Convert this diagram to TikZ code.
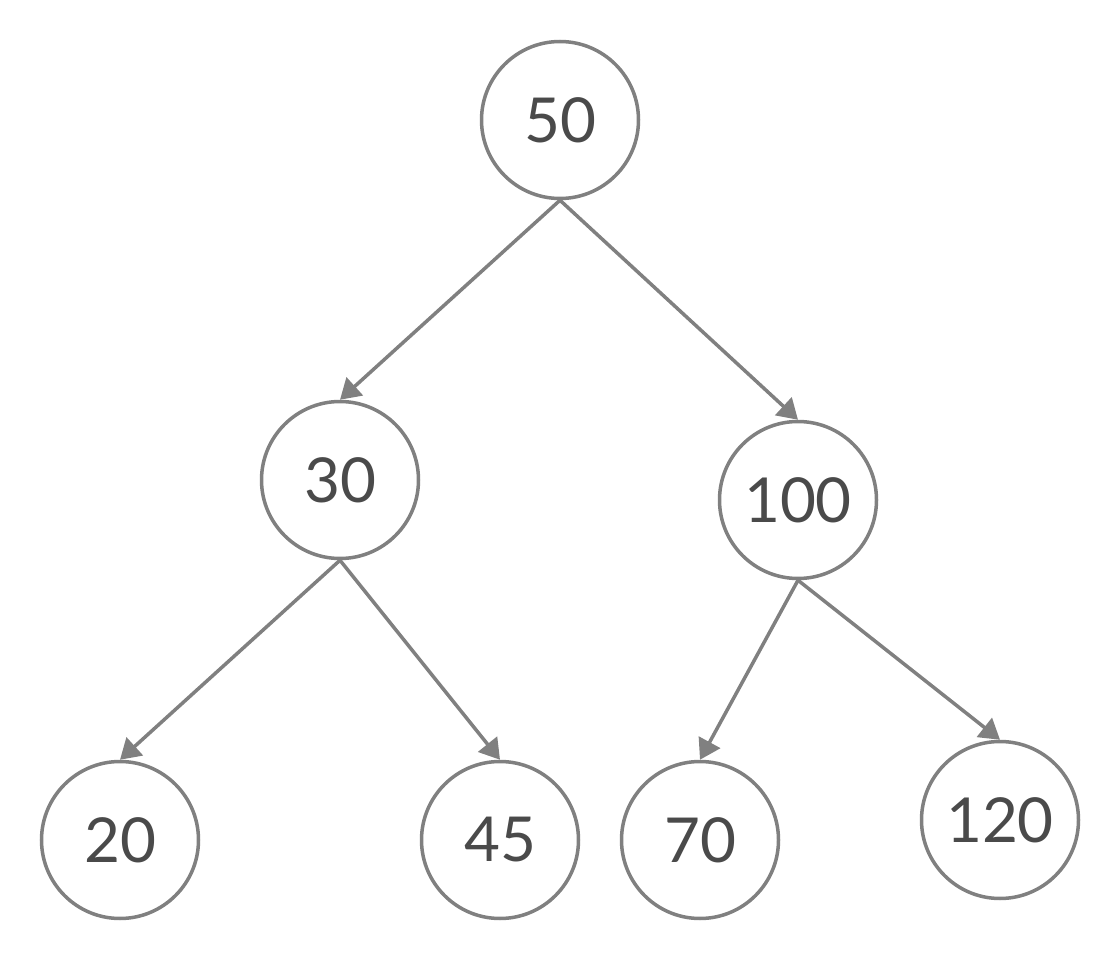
\documentclass[tikz,border=0pt]{standalone}
\usepackage{fontspec}
\setmainfont{Lato}
\usetikzlibrary{arrows.meta}
\definecolor{edgegray}{HTML}{808080}
\definecolor{textgray}{HTML}{4A4A4A}
\begin{document}
\begin{tikzpicture}[x=1pt,y=-1pt,
  treenode/.style={circle,draw=edgegray,line width=3.5pt,minimum size=157pt,inner sep=0pt,
    text=textgray,font=\fontsize{62}{62}\selectfont},
  edge/.style={draw=edgegray,line width=3.5pt,-{Triangle[length=20pt,width=24pt]}}]
\useasboundingbox (0,0) rectangle (1120,960);
\node[treenode] (n50) at (560,120) {50};
\node[treenode] (n30) at (340,480) {30};
\node[treenode] (n100) at (798,500) {100};
\node[treenode] (n20) at (120,840) {20};
\node[treenode] (n45) at (500,840) {45};
\node[treenode] (n70) at (700,840) {70};
\node[treenode] (n120) at (1000,820) {120};
\draw[edge] (n50.south) -- (n30.north);
\draw[edge] (n50.south) -- (n100.north);
\draw[edge] (n30.south) -- (n20.north);
\draw[edge] (n30.south) -- (n45.north);
\draw[edge] (n100.south) -- (n70.north);
\draw[edge] (n100.south) -- (n120.north);
\end{tikzpicture}
\end{document}
